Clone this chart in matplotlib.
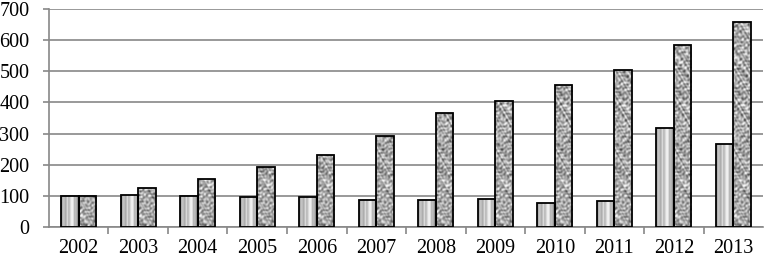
import numpy as np
import matplotlib.pyplot as plt

years = ["2002", "2003", "2004", "2005", "2006", "2007",
         "2008", "2009", "2010", "2011", "2012", "2013"]
series_a = [100, 103, 100, 97, 95, 88, 86, 89, 76, 84, 319, 266]
series_b = [100, 125, 155, 193, 232, 292, 365, 404, 456, 504, 585, 659]

plt.rcParams["font.family"] = ["Liberation Serif", "DejaVu Serif"]
plt.rcParams["font.size"] = 14.5

# bar textures (only decoration): striped "cylinder" and a granite-like grain
stripe_row = np.array([0.62, 0.72, 0.80, 0.66, 0.74, 0.86, 0.70, 0.80, 0.92,
                       0.95, 0.85, 0.68, 0.78, 0.60, 0.50])
stripe_img = np.tile(stripe_row, (10, 1))

px, py = np.meshgrid(np.linspace(0, 17.5, 36), np.linspace(0, 220, 440))
g = np.zeros_like(px)
waves = [(0.8, 0.55, 0.0), (-0.45, 0.9, 1.1), (1.2, -0.3, 2.3), (0.25, -1.1, 0.7),
         (-1.0, -0.7, 3.9), (1.5, 0.9, 5.2), (-0.55, 1.4, 4.4), (0.7, -1.7, 1.9)]
for kx, ky, ph in waves:
    g += np.sin(kx * px + ky * py + ph + 1.6 * np.sin(0.23 * py + 0.5 * px + ph))
g = g / np.abs(g).max()
granite = np.clip(0.66 + 0.5 * g, 0.28, 0.97)

fig, ax = plt.subplots(figsize=(7.64, 2.60), dpi=100)
fig.subplots_adjust(left=0.064, right=0.999, top=0.965, bottom=0.127)

x = np.arange(len(years))
w = 0.294
bars_a = ax.bar(x - w / 2, series_a, w, facecolor="none", edgecolor="black", lw=1.3, zorder=3)
bars_b = ax.bar(x + w / 2, series_b, w, facecolor="none", edgecolor="black", lw=1.3, zorder=3)

for bars, img in ((bars_a, stripe_img), (bars_b, granite)):
    for p in bars:
        x0 = p.get_x()
        im = ax.imshow(img, cmap="gray", vmin=0, vmax=1, aspect="auto",
                       extent=[x0, x0 + p.get_width(), 0, 700], origin="lower",
                       zorder=2, interpolation="bilinear")
        im.set_clip_path(p)

ax.set_xlim(-0.5, len(years) - 0.5)
ax.set_ylim(0, 700)
ax.set_yticks(range(0, 701, 100))
ax.set_xticks(x)
ax.set_xticklabels(years)
ax.set_xticks(np.arange(0.5, len(years) - 0.5, 1), minor=True)
ax.tick_params(axis="x", which="major", length=0, pad=9)
ax.tick_params(axis="x", which="minor", length=5, color="#888888", width=1.2)
ax.tick_params(axis="y", length=4, color="#888888", width=1.2, pad=10)

ax.grid(axis="y", color="#888888", lw=1.2, zorder=0)
for s in ("top", "right"):
    ax.spines[s].set_visible(False)
for s in ("left", "bottom"):
    ax.spines[s].set_color("#888888")
    ax.spines[s].set_linewidth(1.2)

fig.savefig("out.png", dpi=100)
